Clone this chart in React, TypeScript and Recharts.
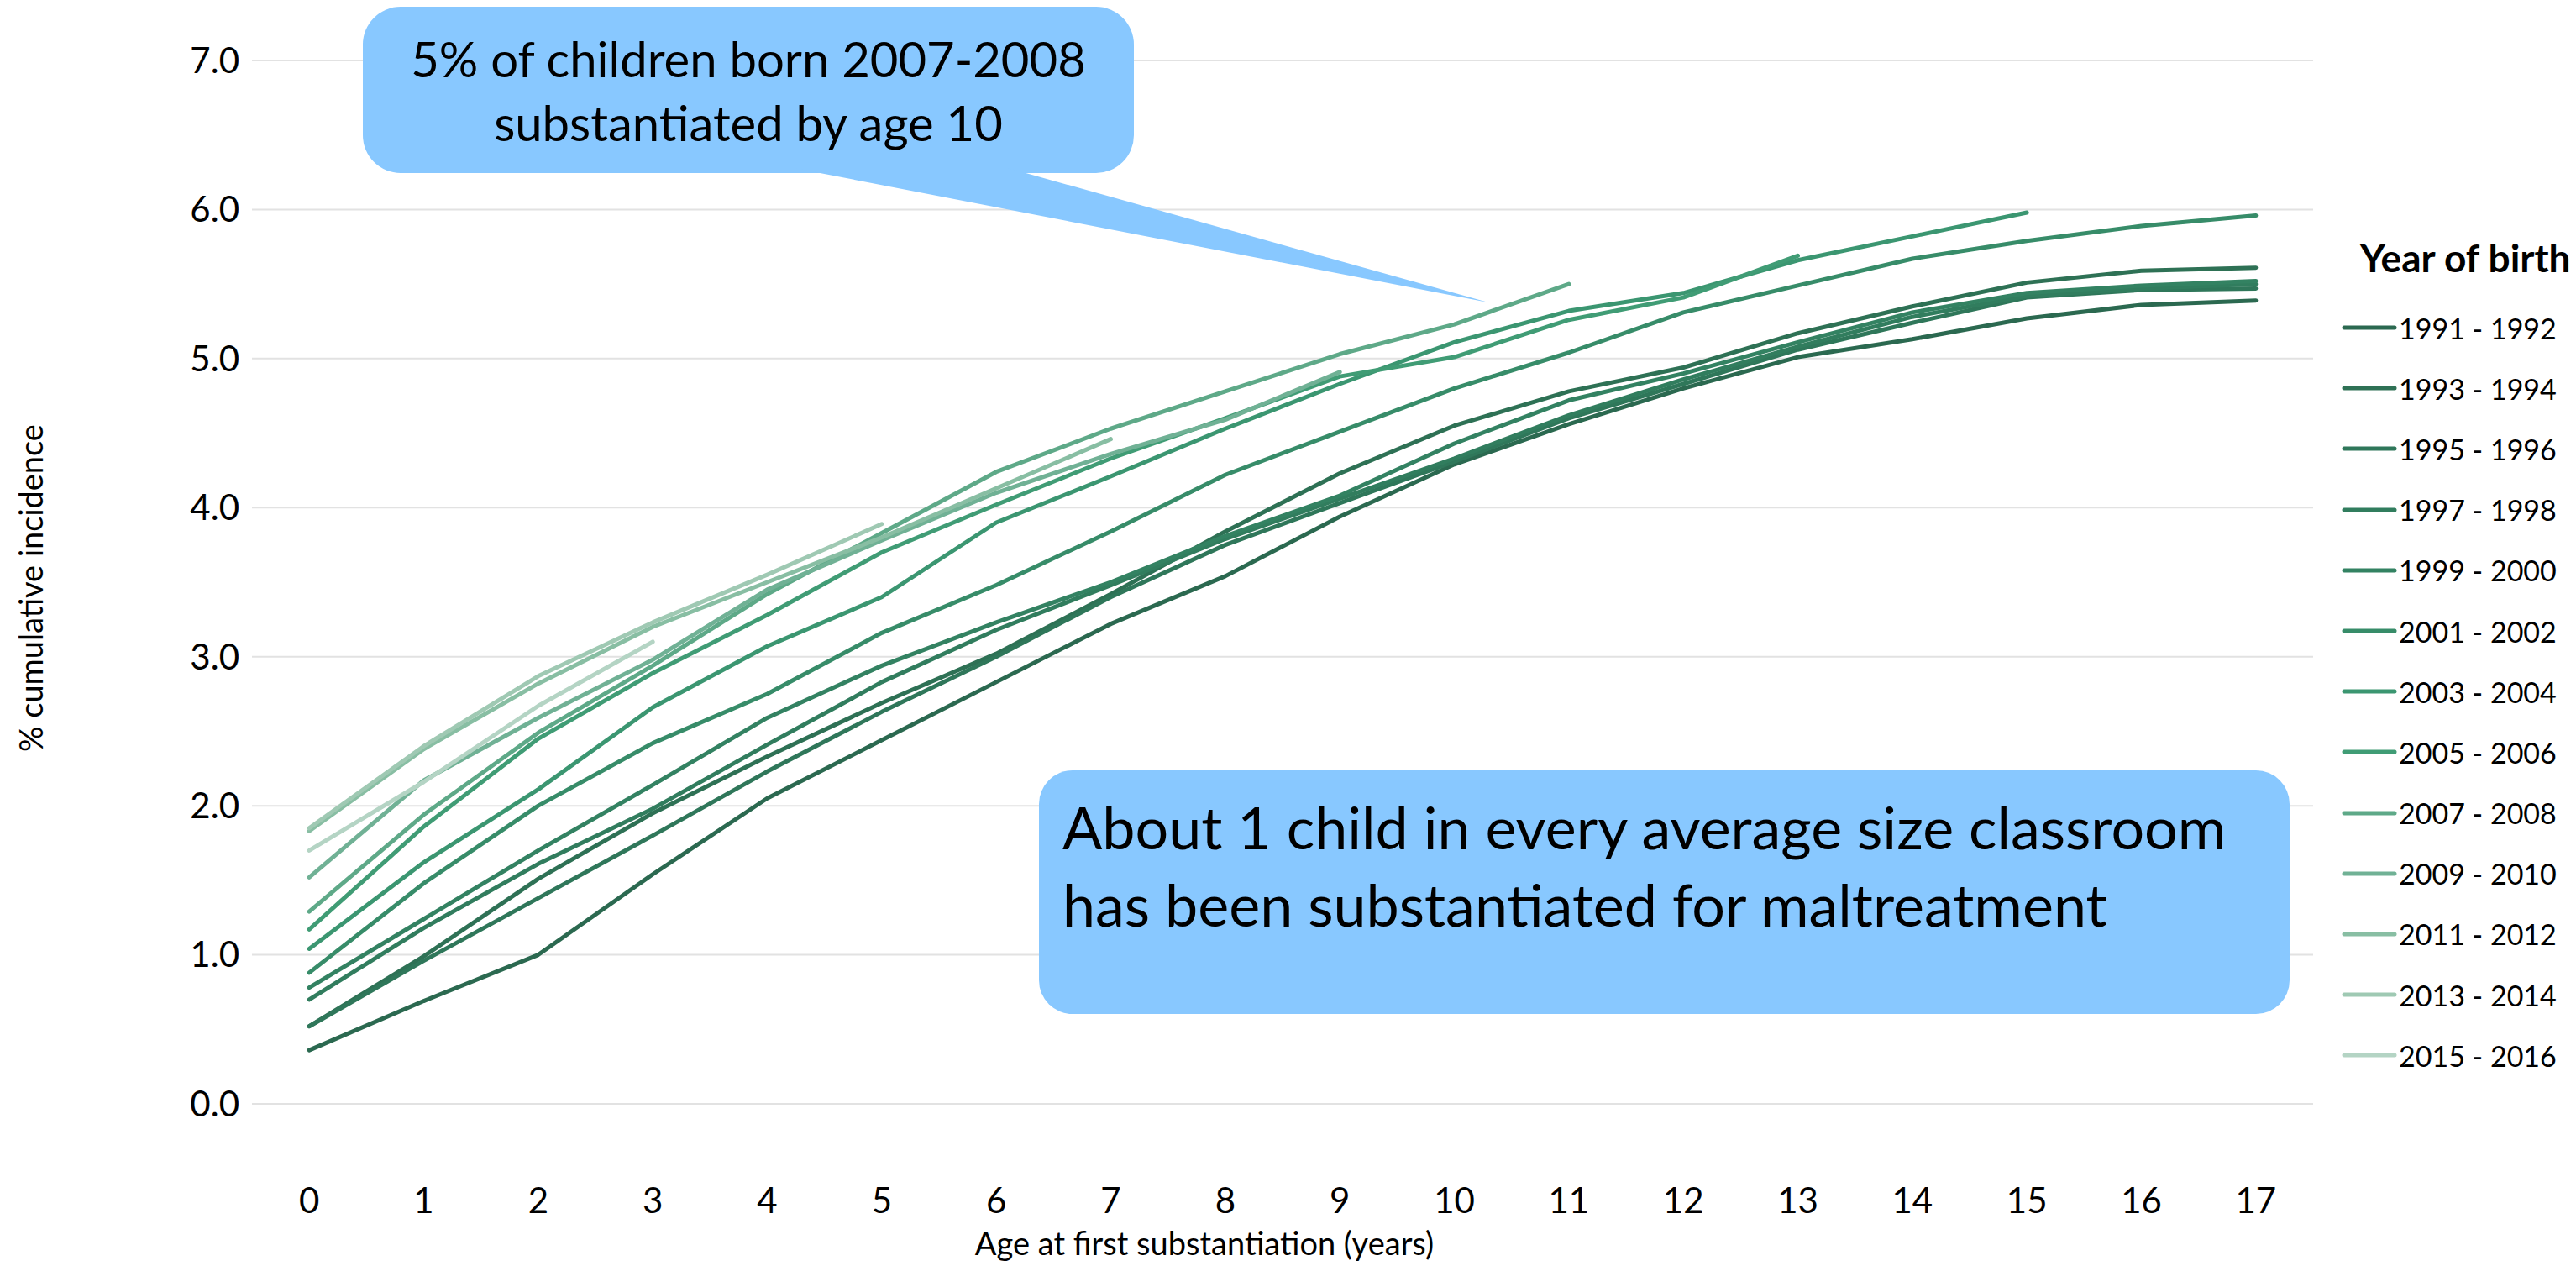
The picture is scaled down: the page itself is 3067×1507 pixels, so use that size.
import React from 'react';
import { LineChart, Line, XAxis, YAxis, CartesianGrid } from 'recharts';

// Age at first substantiation (years)
const ages = [0, 1, 2, 3, 4, 5, 6, 7, 8, 9, 10, 11, 12, 13, 14, 15, 16, 17];

const cohorts = [
  '1991 - 1992', '1993 - 1994', '1995 - 1996', '1997 - 1998', '1999 - 2000',
  '2001 - 2002', '2003 - 2004', '2005 - 2006', '2007 - 2008', '2009 - 2010',
  '2011 - 2012', '2013 - 2014', '2015 - 2016',
];

// % cumulative incidence per cohort (younger cohorts stop earlier)
const c1991 = [0.36, 0.69, 1.0, 1.54, 2.05, 2.44, 2.83, 3.22, 3.54, 3.94, 4.29, 4.56, 4.8, 5.01, 5.13, 5.27, 5.36, 5.39];
const c1993 = [0.52, 0.99, 1.51, 1.95, 2.33, 2.69, 3.02, 3.42, 3.84, 4.23, 4.55, 4.78, 4.94, 5.17, 5.35, 5.51, 5.59, 5.61];
const c1995 = [0.52, 0.96, 1.38, 1.8, 2.23, 2.63, 3.0, 3.4, 3.75, 4.03, 4.31, 4.6, 4.83, 5.06, 5.24, 5.41, 5.46, 5.47];
const c1997 = [0.7, 1.18, 1.61, 1.98, 2.41, 2.83, 3.18, 3.48, 3.79, 4.06, 4.33, 4.62, 4.86, 5.08, 5.28, 5.42, 5.47, 5.5];
const c1999 = [0.78, 1.24, 1.7, 2.14, 2.59, 2.94, 3.23, 3.5, 3.81, 4.08, 4.43, 4.72, 4.9, 5.11, 5.31, 5.44, 5.49, 5.52];
const c2001 = [0.88, 1.48, 2.0, 2.42, 2.75, 3.16, 3.48, 3.84, 4.22, 4.51, 4.8, 5.04, 5.31, 5.49, 5.67, 5.79, 5.89, 5.96];
const c2003 = [1.04, 1.62, 2.11, 2.66, 3.07, 3.4, 3.9, 4.21, 4.53, 4.83, 5.11, 5.32, 5.44, 5.66, 5.82, 5.98];
const c2005 = [1.17, 1.86, 2.45, 2.89, 3.28, 3.7, 4.02, 4.33, 4.6, 4.88, 5.01, 5.26, 5.41, 5.69];
const c2007 = [1.29, 1.94, 2.49, 2.94, 3.42, 3.83, 4.24, 4.53, 4.78, 5.03, 5.23, 5.5];
const c2009 = [1.52, 2.17, 2.59, 2.98, 3.45, 3.78, 4.1, 4.36, 4.59, 4.91];
const c2011 = [1.83, 2.38, 2.82, 3.2, 3.5, 3.8, 4.13, 4.46];
const c2013 = [1.85, 2.4, 2.87, 3.23, 3.55, 3.89];
const c2015 = [1.7, 2.16, 2.67, 3.1];

const seriesValues = [c1991, c1993, c1995, c1997, c1999, c2001, c2003, c2005, c2007, c2009, c2011, c2013, c2015];

const colors = [
  '#2b6950', '#2e7155', '#2f775a', '#317d5e', '#338262', '#378c69', '#3b9671',
  '#409c75', '#5ea988', '#70b195', '#88bea3', '#9fc9b3', '#b4d4c4',
];

const yTicks = [0, 1, 2, 3, 4, 5, 6, 7];

const data = ages.map((age, i) => {
  const row: Record<string, number | undefined> = { age };
  seriesValues.forEach((vals, s) => {
    row[cohorts[s]] = vals[i];
  });
  return row;
});

const FONT = 'Lato, "Open Sans", sans-serif';
const BLUE = '#88c8ff';

const App: React.FC = () => {
  return (
    <div style={{ position: 'absolute', left: 0, top: 0, width: 3067, height: 1507, background: '#fff', fontFamily: FONT }}>
      <LineChart
        width={3067}
        height={1507}
        data={data}
        margin={{ top: 72, right: 313, bottom: 43, left: 0 }}
      >
        <CartesianGrid vertical={false} stroke="#e2e2e2" strokeWidth={2} />
        <XAxis
          dataKey="age"
          type="number"
          domain={[-0.5, 17.5]}
          ticks={ages}
          interval={0}
          height={150}
          axisLine={false}
          tickLine={false}
          tickSize={0}
          tickMargin={100}
          tick={{ fontSize: 42, fill: '#000', fontFamily: FONT }}
        />
        <YAxis
          domain={[0, 7]}
          ticks={yTicks}
          width={300}
          axisLine={false}
          tickLine={false}
          tickSize={0}
          tickMargin={15}
          tickFormatter={(v: number) => v.toFixed(1)}
          tick={{ fontSize: 42, fill: '#000', fontFamily: FONT }}
        />
        {cohorts.map((name, s) => (
          <Line
            key={name}
            type="linear"
            dataKey={name}
            stroke={colors[s]}
            strokeWidth={5}
            strokeLinecap="round"
            strokeLinejoin="round"
            dot={false}
            activeDot={false}
            isAnimationActive={false}
          />
        ))}
      </LineChart>

      {/* legend */}
      <div style={{ position: 'absolute', left: 2788, top: 279 }}>
        <div style={{ fontSize: 46, fontWeight: 700, color: '#000', lineHeight: '56px', marginLeft: 22, marginBottom: 19, whiteSpace: 'nowrap' }}>Year of birth</div>
        {cohorts.map((name, s) => (
          <div key={name} style={{ display: 'flex', alignItems: 'center', height: 72.2 }}>
            <svg width={66} height={10}>
              <line x1={3} y1={5} x2={63} y2={5} stroke={colors[s]} strokeWidth={5} strokeLinecap="round" />
            </svg>
            <span style={{ fontSize: 34, color: '#000', marginLeft: 2 }}>{name}</span>
          </div>
        ))}
      </div>

      {/* annotations and axis titles */}
      <svg width={3067} height={1507} style={{ position: 'absolute', left: 0, top: 0, pointerEvents: 'none' }} fontFamily={FONT}>
        <rect x={432} y={8} width={918} height={198} rx={45} ry={45} fill={BLUE} />
        <polygon points="945,200 1200,200 1772,360" fill={BLUE} />
        <text x={891} y={92} fontSize={58} textAnchor="middle" fill="#000">5% of children born 2007-2008</text>
        <text x={891} y={168} fontSize={58} textAnchor="middle" fill="#000">substantiated by age 10</text>

        <rect x={1237} y={917} width={1489} height={290} rx={40} ry={40} fill={BLUE} />
        <text x={1265} y={1011} fontSize={70} fill="#000">About 1 child in every average size classroom</text>
        <text x={1265} y={1103} fontSize={70} fill="#000">has been substantiated for maltreatment</text>

        <text x={1434} y={1494} fontSize={38} textAnchor="middle" fill="#000">Age at first substantiation (years)</text>
        <text x={36} y={700} fontSize={38} textAnchor="middle" dominantBaseline="central" fill="#000" transform="rotate(-90 36 700)">% cumulative incidence</text>
      </svg>
    </div>
  );
};

export default App;
